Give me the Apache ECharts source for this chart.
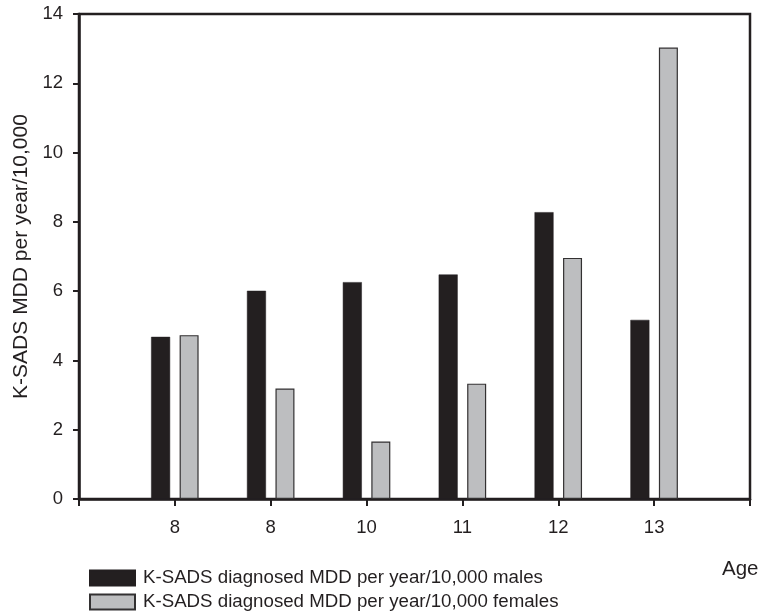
<!DOCTYPE html>
<html>
<head>
<meta charset="utf-8">
<script src="https://cdn.jsdelivr.net/npm/echarts@6/dist/echarts.min.js"></script>
<style>html,body{margin:0;padding:0;background:#fff;}#c{width:762px;height:615px;}</style>
</head>
<body>
<div id="c"></div>
<script>
var ageLabels = ['8', '8', '10', '11', '12', '13'];
var males = [4.68, 6.01, 6.26, 6.48, 8.28, 5.17];
var females = [4.73, 3.19, 1.66, 3.33, 6.96, 13.03];
var yTicks = [0, 2, 4, 6, 8, 10, 12, 14];

var ink = '#231f20';
var font = "'Liberation Sans', Arial, Helvetica, sans-serif";
var cats = [''].concat(ageLabels, ['']);
var pad = function (arr) { return [null].concat(arr, [null]); };

var chart = echarts.init(document.getElementById('c'));
chart.setOption({
  animation: false,
  backgroundColor: '#fff',
  textStyle: { fontFamily: font, color: ink },
  grid: {
    left: 79, top: 14, right: 12, bottom: 116,
    show: true, borderColor: ink, borderWidth: 2.5, backgroundColor: 'transparent'
  },
  legend: {
    orient: 'vertical', left: 89, top: 568.5, padding: 0,
    itemWidth: 45, itemHeight: 15, itemGap: 5,
    textStyle: { fontFamily: font, fontSize: 18.7, color: ink, padding: [0, 0, 0, 3] },
    data: [
      { name: 'K-SADS diagnosed MDD per year/10,000 males', icon: 'rect' },
      { name: 'K-SADS diagnosed MDD per year/10,000 females', icon: 'rect' }
    ]
  },
  xAxis: {
    type: 'category',
    data: cats,
    boundaryGap: false,
    name: 'Age',
    nameLocation: 'end',
    nameGap: -28,
    nameTextStyle: { fontFamily: font, fontSize: 20.5, color: ink, verticalAlign: 'top', align: 'left', padding: [60, 0, 0, 0] },
    axisLine: { lineStyle: { color: ink, width: 2.5 } },
    axisTick: { show: true, inside: false, length: 7, lineStyle: { color: ink, width: 2 }, alignWithLabel: true },
    axisLabel: { fontFamily: font, fontSize: 18.5, color: ink, margin: 19, interval: 0 },
    splitLine: { show: false }
  },
  yAxis: {
    type: 'value',
    min: yTicks[0], max: yTicks[yTicks.length - 1], interval: 2,
    name: 'K-SADS MDD per year/10,000',
    nameLocation: 'middle',
    nameGap: 41,
    nameTextStyle: { fontFamily: font, fontSize: 21, color: ink },
    axisLine: { show: true, lineStyle: { color: ink, width: 2.5 } },
    axisTick: { show: true, inside: false, length: 6, lineStyle: { color: ink, width: 2 } },
    axisLabel: { fontFamily: font, fontSize: 18.5, color: ink, margin: 16 },
    splitLine: { show: false }
  },
  series: [
    {
      name: 'K-SADS diagnosed MDD per year/10,000 males',
      type: 'bar',
      data: pad(males),
      barWidth: 19,
      barGap: '50%',
      itemStyle: { color: ink, borderColor: ink, borderWidth: 0.5 }
    },
    {
      name: 'K-SADS diagnosed MDD per year/10,000 females',
      type: 'bar',
      data: pad(females),
      barWidth: 19,
      itemStyle: { color: '#bdbec0', borderColor: '#333132', borderWidth: 1.2 }
    }
  ]
});
</script>
</body>
</html>
